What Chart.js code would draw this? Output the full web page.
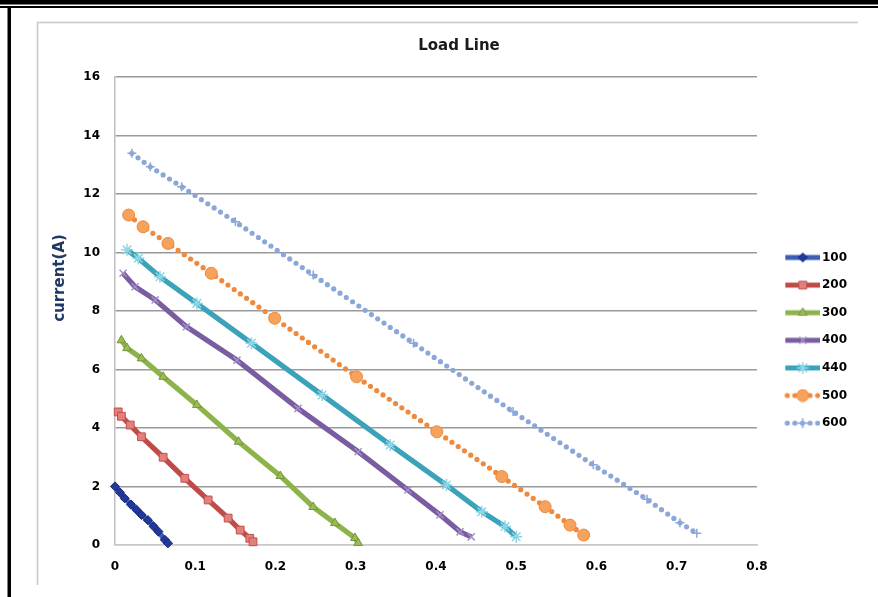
<!DOCTYPE html>
<html>
<head>
<meta charset="utf-8">
<script src="https://cdn.jsdelivr.net/npm/chart.js@4.4.0/dist/chart.umd.min.js"></script>
<style>
  html, body { margin: 0; padding: 0; background: #fff; }
  #load_line_chart { display: block; }
</style>
</head>
<body>
<canvas id="load_line_chart" width="878" height="597"></canvas>
<script>
// legend names
const seriesNames = ["100", "200", "300", "400", "440", "500", "600"]

// values, one x / y pair of arrays per series
const x100 = [0.000, 0.006, 0.012, 0.020, 0.027, 0.033, 0.041, 0.048, 0.054, 0.062, 0.066]
const y100 = [2.00, 1.80, 1.60, 1.38, 1.20, 1.03, 0.85, 0.64, 0.46, 0.18, 0.06]

const x200 = [0.004, 0.008, 0.019, 0.033, 0.060, 0.087, 0.116, 0.141, 0.156, 0.168, 0.172]
const y200 = [4.55, 4.40, 4.10, 3.70, 3.00, 2.28, 1.54, 0.92, 0.51, 0.23, 0.11]

const x300 = [0.008, 0.015, 0.033, 0.060, 0.102, 0.154, 0.206, 0.247, 0.274, 0.299, 0.303]
const y300 = [7.00, 6.73, 6.38, 5.75, 4.79, 3.53, 2.36, 1.30, 0.75, 0.24, 0.07]

const x400 = [0.010, 0.025, 0.050, 0.089, 0.152, 0.228, 0.303, 0.365, 0.405, 0.430, 0.444]
const y400 = [9.29, 8.83, 8.38, 7.46, 6.32, 4.67, 3.19, 1.88, 1.03, 0.45, 0.28]

const x440 = [0.015, 0.029, 0.056, 0.102, 0.170, 0.258, 0.343, 0.413, 0.457, 0.486, 0.500]
const y440 = [10.09, 9.80, 9.17, 8.26, 6.90, 5.13, 3.42, 2.05, 1.14, 0.63, 0.28]

const x500 = [0.017, 0.035, 0.066, 0.120, 0.199, 0.301, 0.401, 0.482, 0.536, 0.567, 0.584]
const y500 = [11.28, 10.88, 10.31, 9.29, 7.75, 5.75, 3.87, 2.34, 1.31, 0.68, 0.34]

const x600 = [0.021, 0.044, 0.083, 0.150, 0.247, 0.372, 0.496, 0.596, 0.663, 0.704, 0.725]
const y600 = [13.39, 12.93, 12.25, 11.05, 9.23, 6.90, 4.56, 2.74, 1.56, 0.76, 0.40]

// tick labels
const xTickLabels = ["0", "0.1", "0.2", "0.3", "0.4", "0.5", "0.6", "0.7", "0.8"]
const yTickLabels = ["0", "2", "4", "6", "8", "10", "12", "14", "16"]

Chart.defaults.font.family = "DejaVu Sans"
Chart.defaults.color = "#000"

function zip_points(xs, ys){
  let pts = []
  for (let i = 0; i < xs.length; i++){
    pts.push({x: xs[i], y: ys[i]})
  }
  return pts
}

function make_series(name, xs, ys, look){
  return {
    label: name,
    data: zip_points(xs, ys),
    showLine: true,
    clip: false,
    borderColor: look.line,
    borderWidth: 5.2,
    borderDash: look.dotted ? [0, 7.6] : [],
    borderCapStyle: look.dotted ? "round" : "butt",
    pointStyle: look.marker,
    pointRadius: look.size,
    pointBackgroundColor: look.fill || look.edge,
    pointBorderColor: look.edge,
    pointBorderWidth: look.edgeWidth || 1
  }
}

const datasets = [
  make_series(seriesNames[0], x100, y100, {line: "#3a5fb5", marker: "rectRot", size: 4.6, fill: "#22389a", edge: "#1a2a7a"}),
  make_series(seriesNames[1], x200, y200, {line: "#be4b48", marker: "rect", size: 5.5, fill: "#e4807c", edge: "#c0504d"}),
  make_series(seriesNames[2], x300, y300, {line: "#8cb44a", marker: "triangle", size: 5, fill: "#9bbb59", edge: "#76963a"}),
  make_series(seriesNames[3], x400, y400, {line: "#7a5ca0", marker: "crossRot", size: 5, edge: "#a48fc8", edgeWidth: 1.5}),
  make_series(seriesNames[4], x440, y440, {line: "#3aa3ba", marker: "star", size: 6, edge: "#8dd6e6", edgeWidth: 1.5}),
  make_series(seriesNames[5], x500, y500, {line: "#f0893c", marker: "circle", size: 6, fill: "#f5a25c", edge: "#f08a3c", dotted: true}),
  make_series(seriesNames[6], x600, y600, {line: "#8ba7d8", marker: "cross", size: 4.5, edge: "#8ba7d8", edgeWidth: 1.5, dotted: true})
]

// little line + marker picture for each legend entry, like the spreadsheet legend
function legend_image(ds){
  const c = document.createElement("canvas")
  c.width = 52
  c.height = 14
  const g = c.getContext("2d")
  g.strokeStyle = ds.borderColor
  g.lineWidth = ds.borderWidth
  g.lineCap = ds.borderCapStyle
  g.setLineDash(ds.borderDash)
  g.beginPath()
  g.moveTo(ds.borderDash.length ? 19 : 17, 7)
  g.lineTo(ds.borderDash.length ? 50 : 52, 7)
  g.stroke()
  g.setLineDash([])
  g.fillStyle = ds.pointBackgroundColor
  g.strokeStyle = ds.pointBorderColor
  g.lineWidth = ds.pointBorderWidth
  if (Chart.helpers && Chart.helpers.drawPoint){
    Chart.helpers.drawPoint(g, {pointStyle: ds.pointStyle, radius: ds.pointRadius, borderWidth: ds.pointBorderWidth, rotation: 0}, 34.5, 7)
  }
  return c
}
const legendImages = datasets.map(legend_image)

const framePlugin = {
  id: "frame",
  afterInit(chart){
    // fixed legend width so the plot ends where the picture's does
    const lg = chart.legend
    const fit = lg.fit.bind(lg)
    lg.fit = function(){ fit(); this.width = 121 }
  },
  beforeDraw(chart){
    const c = chart.ctx
    c.save()
    c.fillStyle = "#fff"
    c.fillRect(0, 0, chart.width, chart.height)
    // outer black frame
    c.fillStyle = "#000"
    c.fillRect(0, 0, chart.width, 4.5)
    c.fillRect(0, 6, chart.width, 2)
    c.fillRect(7.5, 6, 3.5, chart.height - 6)
    // chart area border
    c.strokeStyle = "#c8c8c8"
    c.lineWidth = 1.5
    c.beginPath()
    c.moveTo(858, 22.5)
    c.lineTo(37.5, 22.5)
    c.lineTo(37.5, 585)
    c.stroke()
    c.restore()
  },
  afterDraw(chart){
    const c = chart.ctx
    c.save()
    c.translate(60, 278)
    c.rotate(-Math.PI / 2)
    c.textAlign = "center"
    c.textBaseline = "middle"
    c.font = "bold 15px 'DejaVu Sans'"
    c.fillStyle = "#1f3864"
    c.fillText("current(A)", 0, 0)
    c.restore()
  }
}

new Chart(document.getElementById("load_line_chart"), {
  type: "scatter",
  data: { datasets: datasets },
  options: {
    responsive: false,
    animation: false,
    devicePixelRatio: 1,
    layout: { padding: { left: 40, top: 24, right: 0, bottom: 0 } },
    plugins: {
      title: {
        display: true,
        text: "Load Line",
        color: "#1a1a1a",
        font: { size: 15, weight: "bold" },
        padding: { top: 13, bottom: 22 }
      },
      legend: {
        position: "right",
        align: "center",
        title: { display: true, text: "", font: { size: 12 }, padding: { top: 45.2, bottom: 0 } },
        labels: {
          usePointStyle: true,
          pointStyleWidth: 43.4,
          padding: 15.6,
          font: { size: 12, weight: "bold" },
          color: "#000",
          generateLabels: function(chart){
            const items = Chart.defaults.plugins.legend.labels.generateLabels(chart)
            items.forEach((it, i) => { it.pointStyle = legendImages[it.datasetIndex] })
            return items
          }
        }
      },
      tooltip: { enabled: false }
    },
    scales: {
      x: {
        type: "linear",
        min: 0,
        max: 0.8,
        afterFit: function(scale){ scale.height = 52 },
        ticks: {
          stepSize: 0.1,
          padding: 15,
          font: { size: 12, weight: "bold" },
          color: "#000",
          callback: function(v, i){ return xTickLabels[i] }
        },
        grid: { display: false, drawTicks: false },
        border: { display: true, color: "#c8c8c8", width: 1.5 }
      },
      y: {
        type: "linear",
        min: 0,
        max: 16,
        afterFit: function(scale){ scale.width = 75 },
        ticks: {
          stepSize: 2,
          padding: 15,
          font: { size: 12, weight: "bold" },
          color: "#000",
          callback: function(v, i){ return yTickLabels[i] }
        },
        grid: {
          drawTicks: false,
          color: function(ctx){ return ctx.tick && ctx.tick.value === 0 ? "#c8c8c8" : "#9a9a9a" },
          lineWidth: 1.6
        },
        border: { display: true, color: "#c0c0c0", width: 1.5 }
      }
    }
  },
  plugins: [framePlugin]
})
</script>
</body>
</html>
